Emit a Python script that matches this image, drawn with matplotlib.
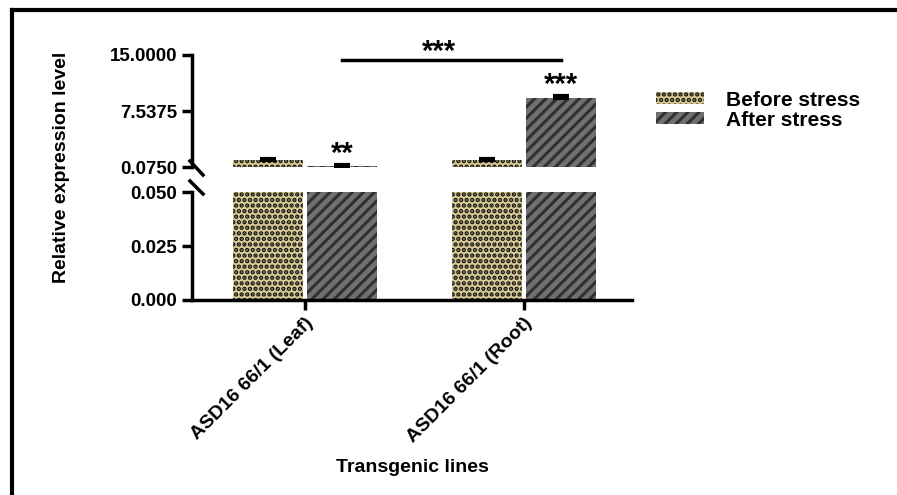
import matplotlib.pyplot as plt
from matplotlib.lines import Line2D
import numpy as np

plt.rcParams['font.family'] = ['Liberation Sans', 'DejaVu Sans']
plt.rcParams['font.weight'] = 'bold'
plt.rcParams['hatch.linewidth'] = 2.2

# Expression data (mean and upper error)
lines = ["ASD16 66/1 (Leaf)", "ASD16 66/1 (Root)"]
before = [1.0, 1.0]
before_err = [0.15, 0.15]
after = [0.2, 9.3]
after_err = [0.12, 0.2]
group_stars = ["**", "***"]

x = np.arange(len(lines))
w = 0.32
off = 0.17

fig = plt.figure(figsize=(8.97, 4.95), dpi=100)
ax_top = fig.add_axes([0.214, 0.6626, 0.4905, 0.2263])
ax_bot = fig.add_axes([0.214, 0.394, 0.4905, 0.218])

before_style = dict(color='#d6c994', hatch='...', edgecolor='#111111', linewidth=0)
after_style = dict(color='#707070', hatch='///', edgecolor='#303030', linewidth=0)

for ax in (ax_top, ax_bot):
    ax.bar(x - off, before, w, label="Before stress", **before_style)
    ax.bar(x + off, after, w, label="After stress", **after_style)
    ax.set_xlim(-0.516, 1.493)
    for s in ['top', 'right']:
        ax.spines[s].set_visible(False)
    for s in ['left', 'bottom']:
        ax.spines[s].set_linewidth(2.5)
    ax.tick_params(width=2.5, length=7, labelsize=13.5)

# upper panel
ax_top.errorbar(x - off, before, yerr=[[0, 0], before_err], fmt='none',
                ecolor='black', elinewidth=2, capsize=6, capthick=3)
ax_top.errorbar(x + off, after, yerr=[[0, 0], after_err], fmt='none',
                ecolor='black', elinewidth=2, capsize=6, capthick=3)
ax_top.set_ylim(0.075, 15.0)
ax_top.set_yticks([0.075, 7.5375, 15.0])
ax_top.set_yticklabels(['0.0750', '7.5375', '15.0000'])
ax_top.spines['bottom'].set_visible(False)
ax_top.set_xticks([])

for xi, a, e, s in zip(x, after, after_err, group_stars):
    ax_top.annotate(s, xy=(xi + off, a + e), xytext=(0, 8),
                    textcoords='offset points', ha='center', va='center',
                    fontsize=21, annotation_clip=False)

ax_top.plot([x[0] + off, x[1] + off], [14.3, 14.3], color='black', lw=2.5,
            clip_on=False)
ax_top.annotate("***", xy=((x[0] + x[1]) / 2 + off - 0.06, 14.3), xytext=(0, 6),
                textcoords='offset points', ha='center', va='center',
                fontsize=21, annotation_clip=False)

# lower panel
ax_bot.set_ylim(0, 0.05)
ax_bot.set_yticks([0, 0.025, 0.05])
ax_bot.set_yticklabels(['0.000', '0.025', '0.050'])
ax_bot.set_xticks(x)
ax_bot.set_xticklabels(lines, rotation=45, ha='right', rotation_mode='anchor',
                       fontsize=14)
ax_bot.set_xlabel("Transgenic lines", fontsize=14, fontweight='bold', labelpad=9)

fig.text(0.069, 0.662, "Relative expression level", rotation=90,
         ha='center', va='center', fontsize=14)

# axis break marks
for y0, y1 in [(1 - 161 / 495, 1 - 175 / 495), (1 - 181 / 495, 1 - 194 / 495)]:
    fig.add_artist(Line2D([190 / 897, 203 / 897], [y0, y1], color='black', lw=2.5))

# legend
handles, labels = ax_top.get_legend_handles_labels()
fig.legend(handles, labels, loc='upper left', bbox_to_anchor=(0.71, 0.855),
           frameon=False, fontsize=15, handlelength=2.3, handleheight=0.55,
           labelspacing=0.05, handletextpad=1.1)

# outer frame
fig.add_artist(Line2D([12 / 897, 12 / 897], [0, 1 - 10 / 495], color='black', lw=3))
fig.add_artist(Line2D([12 / 897, 1], [1 - 10 / 495, 1 - 10 / 495], color='black', lw=3))

plt.savefig("out.png", dpi=100)
